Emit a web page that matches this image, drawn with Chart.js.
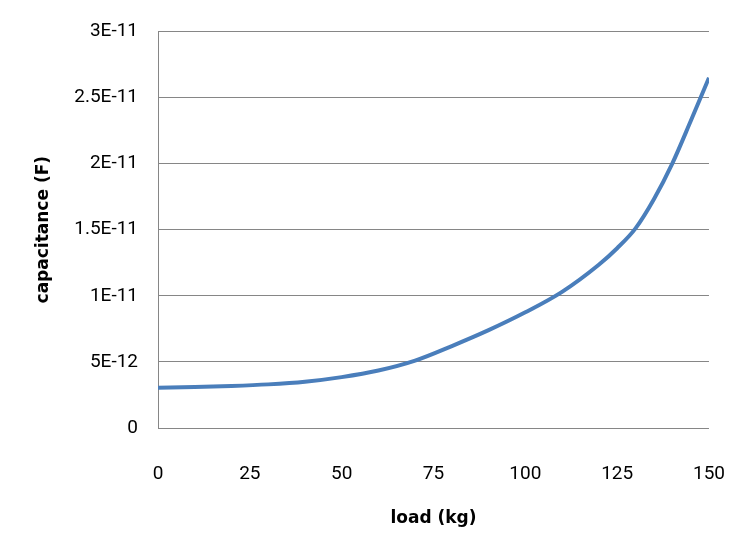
<!DOCTYPE html>
<html>
<head>
<meta charset="utf-8">
<script src="https://cdn.jsdelivr.net/npm/chart.js@4"></script>
<style>
  html, body { margin: 0; padding: 0; background: #fff; }
  #wrap { width: 752px; height: 552px; }
</style>
</head>
<body>
<div id="wrap"><canvas id="capChart"></canvas></div>
<script>
// load in kg, capacitance in farads
const loads = [0, 10, 20, 30, 40, 50, 60, 70, 80, 90, 100, 110, 120, 125, 130, 135, 140, 145, 150];
const capacitance = [3.05e-12, 3.1e-12, 3.18e-12, 3.3e-12, 3.5e-12, 3.85e-12, 4.35e-12, 5.1e-12,
  6.2e-12, 7.4e-12, 8.75e-12, 10.3e-12, 12.35e-12, 13.6e-12, 15.1e-12, 17.3e-12, 20.0e-12,
  23.2e-12, 26.5e-12];
const yTickLabels = ['0', '5E-12', '1E-11', '1.5E-11', '2E-11', '2.5E-11', '3E-11'];

const points = loads.map((x, i) => ({ x: x, y: capacitance[i] }));

const tickFont = { family: 'Roboto', size: 19 };

new Chart(document.getElementById('capChart'), {
  type: 'line',
  data: {
    datasets: [{
      data: points,
      borderColor: '#4a7ebb',
      borderWidth: 4,
      pointRadius: 0,
      cubicInterpolationMode: 'monotone',
      fill: false
    }]
  },
  options: {
    responsive: true,
    maintainAspectRatio: false,
    animation: false,
    layout: { padding: { top: 29, right: 41, left: 0, bottom: 0 } },
    plugins: { legend: { display: false }, tooltip: { enabled: false } },
    scales: {
      x: {
        type: 'linear',
        min: 0,
        max: 150,
        ticks: { stepSize: 25, padding: 27, color: '#000', font: tickFont },
        grid: { display: false },
        border: { display: false },
        title: {
          display: true,
          text: 'load (kg)',
          color: '#000',
          font: { family: 'DejaVu Sans', size: 17, weight: 'bold' },
          padding: { top: 0, bottom: 23 }
        },
        afterFit: s => { s.height = 124; }
      },
      y: {
        min: 0,
        max: 3e-11,
        ticks: {
          stepSize: 5e-12,
          padding: 20,
          color: '#000',
          font: tickFont,
          callback: (v, i) => yTickLabels[i]
        },
        grid: { color: '#868686', lineWidth: 1, drawTicks: false },
        border: { display: true, color: '#868686', width: 1 },
        title: {
          display: true,
          text: 'capacitance (F)',
          color: '#000',
          font: { family: 'DejaVu Sans', size: 17, weight: 'bold' },
          padding: { top: 33, bottom: 0 }
        },
        afterFit: s => { s.width = 158; }
      }
    }
  }
});
</script>
</body>
</html>
